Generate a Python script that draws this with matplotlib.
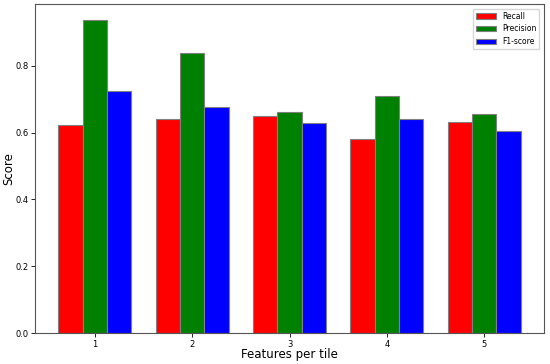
import matplotlib
matplotlib.use("Agg")
import matplotlib.pyplot as plt
import numpy as np

# values
features = [1, 2, 3, 4, 5]
recall = [0.623, 0.642, 0.650, 0.580, 0.632]
precision = [0.938, 0.837, 0.662, 0.711, 0.655]
f1_score = [0.725, 0.677, 0.630, 0.641, 0.605]

fig = plt.figure(figsize=(5.5, 3.64), dpi=100)
ax = fig.add_axes([0.064, 0.085, 0.925, 0.904])

x = np.array(features)
width = 0.25
ax.bar(x - width, recall, width, color='red', edgecolor='gray', linewidth=0.8, label='Recall')
ax.bar(x, precision, width, color='green', edgecolor='gray', linewidth=0.8, label='Precision')
ax.bar(x + width, f1_score, width, color='blue', edgecolor='gray', linewidth=0.8, label='F1-score')

ax.set_xticks(x)
ax.set_xticklabels([str(f) for f in features])
ax.tick_params(labelsize=6, length=3, width=0.6, pad=2)
ax.set_xlabel('Features per tile', fontsize=8.5)
ax.set_ylabel('Score', fontsize=8.5)
# labels sit close to the figure edge, as in the reference
ax.xaxis.set_label_coords(0.5, -0.045)
ax.yaxis.set_label_coords(-0.040, 0.5)
for s in ax.spines.values():
    s.set_color('#555555')
    s.set_linewidth(0.8)

ax.legend(loc='upper right', fontsize=5.5, handlelength=2.6, framealpha=0.8,
          borderaxespad=0.6)

fig.savefig('out.png', dpi=100)
